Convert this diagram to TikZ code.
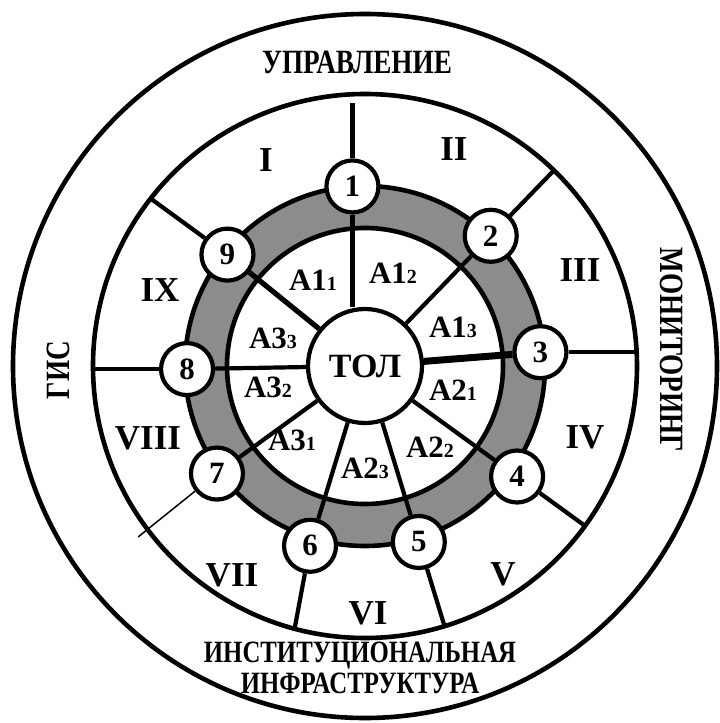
\documentclass[tikz,border=0pt]{standalone}
\usepackage{fontspec}
\setmainfont{Liberation Serif}
\newfontfamily\condfont[FakeStretch=0.8]{Liberation Serif}
\usetikzlibrary{calc}

\newcommand{\idx}[1]{{\fontsize{20}{20}\selectfont #1}}

\begin{document}
\begin{tikzpicture}[
    x=1pt, y=1pt,
    ring/.style={line width=4.6pt},
    stage/.style={circle, draw, line width=4.2pt, fill=white, minimum size=52pt, inner sep=0pt, font=\fontsize{31}{31}\selectfont\bfseries},
    core/.style={circle, draw, line width=4.2pt, fill=white, minimum size=114pt, inner sep=0pt, font=\fontsize{34}{34}\selectfont\bfseries},
    sector/.style={font=\fontsize{31}{31}\selectfont\bfseries},
    roman/.style={font=\fontsize{35}{35}\selectfont\bfseries},
    title/.style={font=\condfont\fontsize{34}{33}\selectfont\bfseries, align=center},
    spoke/.style={line width=4.2pt},
]
\useasboundingbox (-365,-357) rectangle (355,366);

% Outer circles
\draw[ring] (0,0) circle (352);
\draw[ring] (0,0) circle (272);

% Gray ring
\fill[black!45, even odd rule] (0,0) circle (180) (0,0) circle (138);
\draw[ring] (0,0) circle (180);
\draw[ring] (0,0) circle (138);

% Centre and stages
\node[core] (tol) at (0,0) {ТОЛ};
\node[stage] (n1) at (94:180) {1};
\node[stage] (n2) at (46:181) {2};
\node[stage] (n3) at (4.5:176) {3};
\node[stage] (n4) at (-36:188) {4};
\node[stage] (n5) at (-73:184) {5};
\node[stage] (n6) at (-107:188) {6};
\node[stage] (n7) at (-144:183) {7};
\node[stage] (n8) at (181:178) {8};
\node[stage] (n9) at (141:177) {9};

% Ends on the outer ring
\coordinate (e1) at (-13,263);
\coordinate (e2) at (46:272);
\coordinate (e3) at (3.5:272);
\coordinate (e4) at (-36:272);
\coordinate (e5) at (-73:272);
\coordinate (e6) at (-105:272);
\coordinate (e7) at (-143:284);
\coordinate (e8) at (-272,-3);
\coordinate (e9) at (142:272);

% Inner spokes
\draw[spoke] (n1) -- (n1 |- tol.north);
\draw[spoke] (tol) -- (n2);
\draw[line width=7pt] (tol) -- (n3);
\draw[spoke] (tol) -- (n4);
\draw[spoke] (tol) -- (n5);
\draw[spoke] (tol) -- (n6);
\draw[spoke] (tol) -- (n7);
\draw[spoke] (tol) -- (n8);
\draw[line width=5.2pt] (tol) -- (n9);

% Outer spokes
\draw[spoke] (n1) -- (n1 |- e1);
\draw[spoke] (n2) -- (e2);
\draw[spoke] (n3) -- (n3 -| e3);
\draw[spoke] (n4) -- (e4);
\draw[spoke] (n5) -- (e5);
\draw[spoke] (n6) -- (e6);
\draw[line width=1.5pt] (n7) -- (e7);
\draw[spoke] (n8) -- (n8 -| e8);
\draw[spoke] (n9) -- (e9);

% Inner sectors
\node[sector] (a11) at (-52,86) {А1\idx{1}};
\node[sector] (a12) at (28,93) {А1\idx{2}};
\node[sector] (a13) at (88,39) {А1\idx{3}};
\node[sector] (a21) at (88,-24) {А2\idx{1}};
\node[sector] (a22) at (65,-81) {А2\idx{2}};
\node[sector] (a23) at (0,-102) {А2\idx{3}};
\node[sector] (a31) at (-73,-74) {А3\idx{1}};
\node[sector] (a32) at (-97,-21) {А3\idx{2}};
\node[sector] (a33) at (-92,28) {А3\idx{3}};

% Outer sectors
\node[roman] (r1) at (-99,206) {I};
\node[roman] (r2) at (89,217) {II};
\node[roman] (r3) at (215,96) {III};
\node[roman] (r4) at (220,-71) {IV};
\node[roman] (r5) at (138,-208) {V};
\node[roman] (r6) at (3,-247) {VI};
\node[roman] (r7) at (-133,-209) {VII};
\node[roman] (r8) at (-217,-72) {VIII};
\node[roman] (r9) at (-205,76) {IX};

% Titles
\node[title] (upr) at (-8,304) {УПРАВЛЕНИЕ};
\node[title, rotate=90] (gis) at (-307,-4) {ГИС};
\node[title, rotate=-90] (mon) at (307,16) {МОНИТОРИНГ};
\node[title, font=\condfont\fontsize{31}{31}\selectfont\bfseries] (inst) at (-5,-302) {ИНСТИТУЦИОНАЛЬНАЯ\\ИНФРАСТРУКТУРА};

\end{tikzpicture}
\end{document}
